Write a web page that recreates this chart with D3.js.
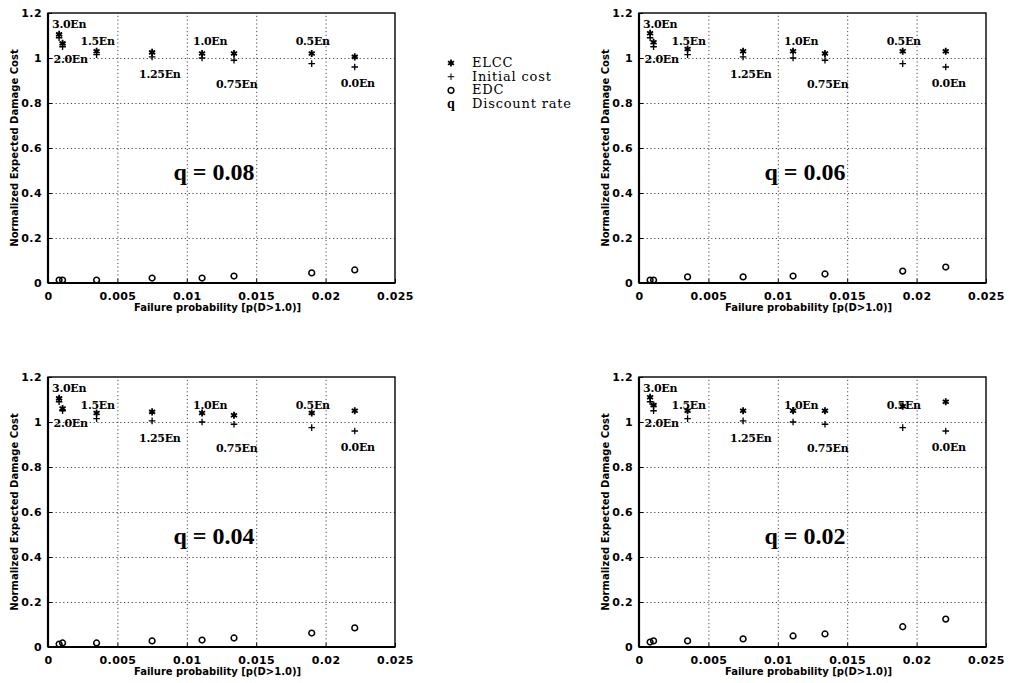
<!DOCTYPE html>
<html>
<head>
<meta charset="utf-8">
<script src="https://cdn.jsdelivr.net/npm/d3@7"></script>
<style>
  body { margin: 0; background: #fff; }
  .tick text { font-family: "DejaVu Sans", sans-serif; font-weight: bold; font-size: 11px; letter-spacing: 0.4px; }
  .grid line { stroke: #333; stroke-dasharray: 1.2,2.6; stroke-width: 0.9; }
  .grid path { display: none; }
</style>
</head>
<body>
<div id="chart"></div>
<script>
// Energy dissipation cases (labels on the points)
var energyLabels = ["3.0En", "2.0En", "1.5En", "1.25En", "1.0En", "0.75En", "0.5En", "0.0En"];
// Failure probability p(D>1.0) for each case
var failureProb = [0.0008, 0.00105, 0.0035, 0.0075, 0.0111, 0.0134, 0.0190, 0.0221];

// Discount rates, one per panel
var discountRates = ["0.08", "0.06", "0.04", "0.02"];

// Initial cost (same in every panel)
var initialCost = [1.09, 1.05, 1.015, 1.005, 1.0, 0.99, 0.975, 0.96];

// ELCC per panel
var elcc08 = [1.105, 1.065, 1.03, 1.025, 1.02, 1.02, 1.02, 1.005];
var elcc06 = [1.11, 1.07, 1.04, 1.03, 1.03, 1.02, 1.03, 1.03];
var elcc04 = [1.105, 1.06, 1.04, 1.045, 1.04, 1.03, 1.04, 1.05];
var elcc02 = [1.11, 1.075, 1.05, 1.05, 1.05, 1.05, 1.07, 1.09];

// EDC per panel
var edc08 = [0.013, 0.013, 0.013, 0.022, 0.022, 0.031, 0.045, 0.058];
var edc06 = [0.013, 0.013, 0.027, 0.027, 0.031, 0.04, 0.053, 0.071];
var edc04 = [0.013, 0.018, 0.018, 0.027, 0.031, 0.04, 0.062, 0.085];
var edc02 = [0.022, 0.027, 0.027, 0.036, 0.049, 0.058, 0.09, 0.124];

// Axis ticks
var xTicks = [0, 0.005, 0.01, 0.015, 0.02, 0.025];
var xTickLabels = ["0", "0.005", "0.01", "0.015", "0.02", "0.025"];
var yTicks = [0, 0.2, 0.4, 0.6, 0.8, 1.0, 1.2];
var yTickLabels = ["0", "0.2", "0.4", "0.6", "0.8", "1", "1.2"];

// Legend entries
var legendSymbols = ["*", "+", "o", "q"];
var legendNames = ["ELCC", "Initial cost", "EDC", "Discount rate"];

var elccSets = [elcc08, elcc06, elcc04, elcc02];
var edcSets = [edc08, edc06, edc04, edc02];

// Layout
var svgWidth = 1014;
var svgHeight = 683;
var panelW = 347;
var panelH = 270;
var panelPos = [[48, 13], [639, 13], [48, 377], [639, 377]];

// label offsets (px): dx from point, dy from the 1.0 gridline
var labelOffset = [[-7, -30], [-9, 5], [-16, -13], [-13, 20], [-9, -13], [-18, 30], [-16, -13], [-14, 29]];

var svg = d3.select("#chart")
    .append("svg")
    .attr("width", svgWidth)
    .attr("height", svgHeight);

var x = d3.scaleLinear().domain([0, 0.025]).range([0, panelW]);
var y = d3.scaleLinear().domain([0, 1.2]).range([panelH, 0]);

var star = d3.symbol().type(d3.symbolAsterisk).size(34);
var plus = d3.symbol().type(d3.symbolPlus).size(16);
var ring = d3.symbol().type(d3.symbolCircle).size(26);

panelPos.forEach(function(p, k) {
    var g = svg.append("g")
        .attr("transform", "translate(" + p[0] + "," + p[1] + ")");

    // dotted grid
    g.append("g")
        .attr("class", "grid")
        .attr("transform", "translate(0," + panelH + ")")
        .call(d3.axisBottom(x).tickValues(xTicks.slice(1, -1)).tickSize(-panelH).tickFormat(""));
    g.append("g")
        .attr("class", "grid")
        .call(d3.axisLeft(y).tickValues(yTicks.slice(1, -1)).tickSize(-panelW).tickFormat(""));

    // axes with inward ticks
    var xa = g.append("g")
        .attr("transform", "translate(0," + panelH + ")")
        .call(d3.axisBottom(x).tickValues(xTicks).tickSize(-4).tickPadding(7)
            .tickFormat(function(d, i) { return xTickLabels[i]; }));
    var ya = g.append("g")
        .call(d3.axisLeft(y).tickValues(yTicks).tickSize(-4).tickPadding(6)
            .tickFormat(function(d, i) { return yTickLabels[i]; }));
    xa.select(".domain").remove();
    ya.select(".domain").remove();
    xa.selectAll(".tick text").attr("dy", "0.9em");

    // box
    g.append("rect")
        .attr("width", panelW)
        .attr("height", panelH)
        .attr("fill", "none")
        .attr("stroke", "#000")
        .attr("stroke-width", 1.4);
    g.append("line").attr("x1", 0).attr("x2", panelW).attr("y1", panelH).attr("y2", panelH)
        .attr("stroke", "#000").attr("stroke-width", 2.2);
    g.append("line").attr("x1", 0).attr("x2", 0).attr("y1", 0).attr("y2", panelH)
        .attr("stroke", "#000").attr("stroke-width", 2.2);

    // EDC
    g.selectAll("path.edc")
        .data(edcSets[k])
        .enter().append("path")
        .attr("class", "edc")
        .attr("d", ring)
        .attr("transform", function(d, i) { return "translate(" + x(failureProb[i]) + "," + y(d) + ")"; })
        .attr("fill", "none")
        .attr("stroke", "#000")
        .attr("stroke-width", 1.5);

    // Initial cost
    g.selectAll("path.ic")
        .data(initialCost)
        .enter().append("path")
        .attr("class", "ic")
        .attr("d", plus)
        .attr("transform", function(d, i) { return "translate(" + x(failureProb[i]) + "," + y(d) + ")"; })
        .attr("fill", "none")
        .attr("stroke", "#000")
        .attr("stroke-width", 1.3);

    // ELCC
    g.selectAll("path.elcc")
        .data(elccSets[k])
        .enter().append("path")
        .attr("class", "elcc")
        .attr("d", star)
        .attr("transform", function(d, i) { return "translate(" + x(failureProb[i]) + "," + y(d) + ")"; })
        .attr("fill", "none")
        .attr("stroke", "#000")
        .attr("stroke-width", 1.8);

    // case labels
    g.selectAll("text.case")
        .data(energyLabels)
        .enter().append("text")
        .attr("class", "case")
        .attr("x", function(d, i) { return x(failureProb[i]) + labelOffset[i][0]; })
        .attr("y", function(d, i) { return y(1.0) + labelOffset[i][1]; })
        .style("font-family", "'DejaVu Serif', serif")
        .style("font-size", "11px")
        .style("font-weight", "bold")
        .style("letter-spacing", "-0.3px")
        .text(function(d) { return d; });

    // discount rate
    g.append("text")
        .attr("x", 166)
        .attr("y", 167)
        .attr("text-anchor", "middle")
        .style("font-family", "'Liberation Serif', 'Times New Roman', serif")
        .style("font-size", "24px")
        .style("font-weight", "bold")
        .text("q = " + discountRates[k]);

    // axis labels
    g.append("text")
        .attr("x", panelW / 2 - 4)
        .attr("y", panelH + 28)
        .attr("text-anchor", "middle")
        .style("font-family", "'DejaVu Sans', sans-serif")
        .style("font-size", "10px")
        .style("font-weight", "bold")
        .text("Failure probability [p(D>1.0)]");
    g.append("text")
        .attr("transform", "rotate(-90)")
        .attr("x", -panelH / 2)
        .attr("y", -30)
        .attr("text-anchor", "middle")
        .style("font-family", "'DejaVu Sans', sans-serif")
        .style("font-size", "10px")
        .style("font-weight", "bold")
        .text("Normalized Expected Damage Cost");
});

// legend
var legend = svg.append("g").attr("transform", "translate(451, 67)");
legendNames.forEach(function(name, i) {
    var row = legend.append("g").attr("transform", "translate(0," + (i * 13.7) + ")");
    if (i === 0) {
        row.append("path").attr("d", star).attr("transform", "translate(0,-4)")
            .attr("fill", "none").attr("stroke", "#000").attr("stroke-width", 1.8);
    } else if (i === 1) {
        row.append("path").attr("d", plus).attr("transform", "translate(0,-4)")
            .attr("fill", "none").attr("stroke", "#000").attr("stroke-width", 1);
    } else if (i === 2) {
        row.append("path").attr("d", ring).attr("transform", "translate(0,-4)")
            .attr("fill", "none").attr("stroke", "#000").attr("stroke-width", 1.5);
    } else {
        row.append("text")
            .attr("x", 0)
            .attr("text-anchor", "middle")
            .style("font-family", "'Liberation Serif', serif")
            .style("font-size", "14px")
            .style("font-weight", "bold")
            .text(legendSymbols[i]);
    }
    row.append("text")
        .attr("x", 21)
        .style("font-family", "'DejaVu Serif', serif")
        .style("font-size", "13px")
        .style("letter-spacing", "0.8px")
        .text(name);
});
</script>
</body>
</html>
